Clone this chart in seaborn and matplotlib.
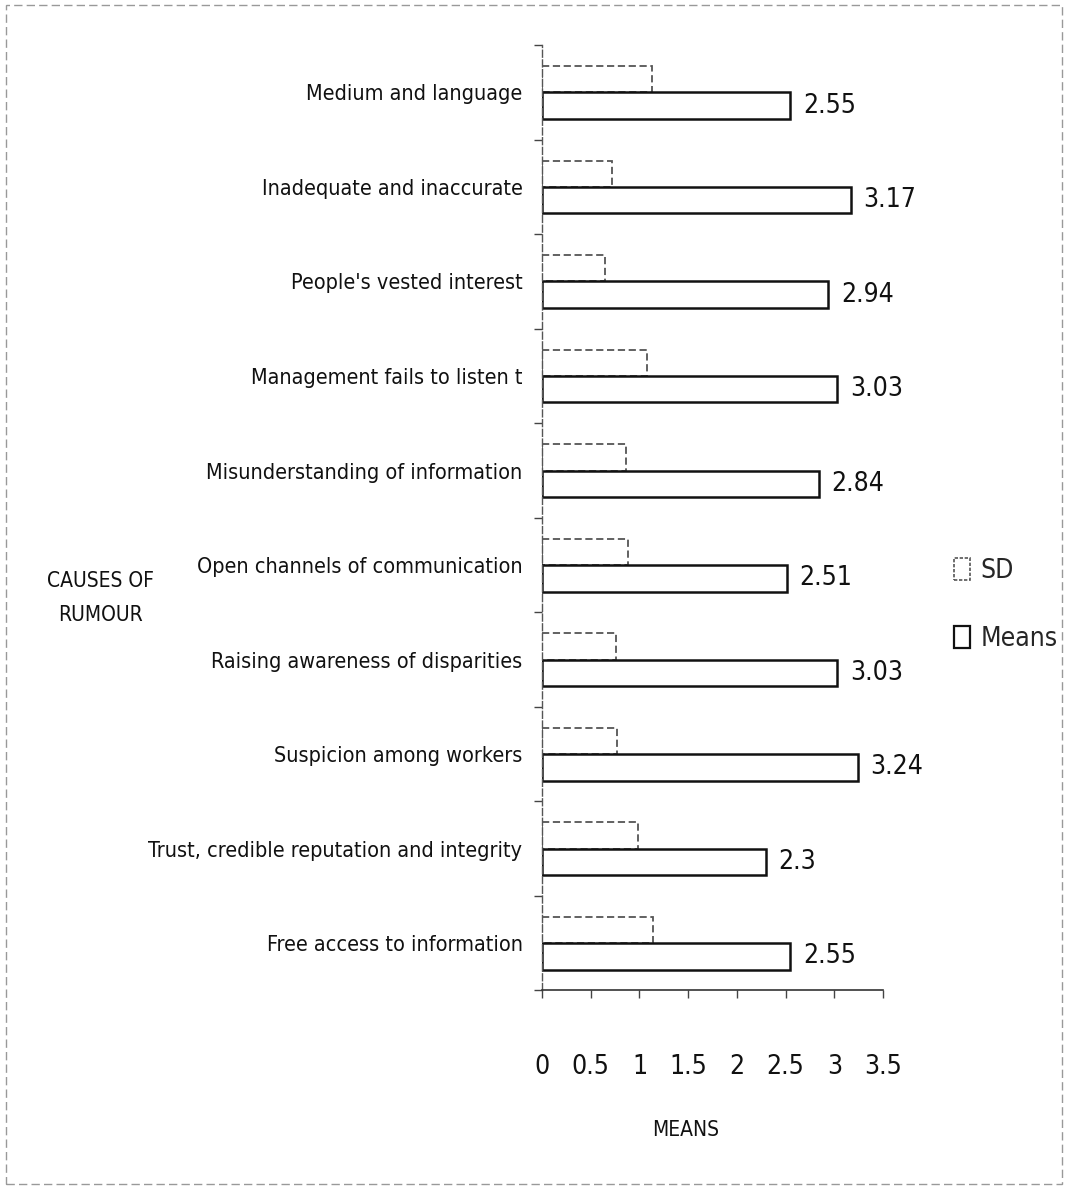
import matplotlib
matplotlib.use("Agg")
import matplotlib.pyplot as plt
import matplotlib.patches as mpatches
import seaborn as sns
import pandas as pd

causes = [
    "Medium and language",
    "Inadequate and inaccurate",
    "People's vested interest",
    "Management fails to listen t",
    "Misunderstanding of information",
    "Open channels of communication",
    "Raising awareness of disparities",
    "Suspicion among workers",
    "Trust, credible reputation and integrity",
    "Free access to information",
]
means = [2.55, 3.17, 2.94, 3.03, 2.84, 2.51, 3.03, 3.24, 2.3, 2.55]
sds = [1.13, 0.72, 0.65, 1.08, 0.86, 0.88, 0.76, 0.77, 0.98, 1.14]
x_ticks = [0, 0.5, 1, 1.5, 2, 2.5, 3, 3.5]
x_tick_labels = ["0", "0.5", "1", "1.5", "2", "2.5", "3", "3.5"]

df = pd.concat([
    pd.DataFrame({"cause": causes, "value": sds, "series": "SD"}),
    pd.DataFrame({"cause": causes, "value": means, "series": "Means"}),
])

sns.set_theme(style="white")
plt.rcParams["font.family"] = ["DejaVu Sans"]
plt.rcParams["font.stretch"] = "condensed"

fig = plt.figure(figsize=(10.67, 11.89), dpi=100)
ax = fig.add_axes([0.508, 0.167, 0.3196, 0.795])

sns.barplot(data=df, x="value", y="cause", hue="series", order=causes,
            hue_order=["SD", "Means"], orient="h", width=0.56,
            palette=["white", "white"], legend=False, ax=ax, errorbar=None)

sd_bars, mean_bars = ax.containers[0], ax.containers[1]
for p in sd_bars:
    p.set_edgecolor("#555555")
    p.set_linestyle((0, (4, 2)))
    p.set_linewidth(1.3)
for p in mean_bars:
    p.set_edgecolor("#111111")
    p.set_linewidth(1.8)

ax.bar_label(mean_bars, labels=[f"{m:g}" for m in means], padding=9,
             fontsize=19, color="#111111")

ax.set_xlim(0, 3.5)
ax.set_ylim(9.5, -0.5)
ax.set_xticks(x_ticks)
ax.set_xticklabels(x_tick_labels, fontsize=19, color="#111111")
ax.tick_params(axis="x", length=6, width=1, color="#444444", pad=40,
               bottom=True, direction="out")
ax.set_yticks(range(len(causes)))
ax.set_yticklabels(causes, fontsize=15.5, color="#111111")
ax.tick_params(axis="y", length=0, pad=14)
ax.set_yticks([i - 0.5 for i in range(len(causes) + 1)], minor=True)
ax.tick_params(axis="y", which="minor", length=6, width=1, color="#444444",
               left=True, direction="out")

for side in ["top", "right"]:
    ax.spines[side].set_visible(False)
ax.spines["left"].set_color("#555555")
ax.spines["left"].set_linestyle((0, (5, 2)))
ax.spines["left"].set_linewidth(1.0)
ax.spines["bottom"].set_color("#333333")
ax.spines["bottom"].set_linewidth(1.2)
ax.set_xlabel("")
ax.set_ylabel("")
ax.grid(False)

fig.text(0.094, 0.497, "CAUSES OF\nRUMOUR", ha="center", va="center",
         fontsize=15, color="#111111", linespacing=1.9)
fig.text(0.643, 0.0496, "MEANS", ha="center", va="center",
         fontsize=15, color="#111111")

handles = [
    mpatches.Patch(facecolor="white", edgecolor="#555555", linestyle=(0, (2, 1)),
                   linewidth=1.2, label="SD"),
    mpatches.Patch(facecolor="white", edgecolor="#111111", linewidth=1.6,
                   label="Means"),
]
fig.legend(handles=handles, loc="center left", bbox_to_anchor=(0.872, 0.491),
           frameon=False, fontsize=19, handlelength=0.6, handleheight=0.9,
           handletextpad=0.4, labelspacing=1.6)

fig.add_artist(mpatches.Rectangle((0.006, 0.004), 0.989, 0.992,
                                  transform=fig.transFigure, fill=False,
                                  edgecolor="#999999", linewidth=1.0,
                                  linestyle=(0, (6, 3))))

fig.savefig("out.png", dpi=100, facecolor="white")
